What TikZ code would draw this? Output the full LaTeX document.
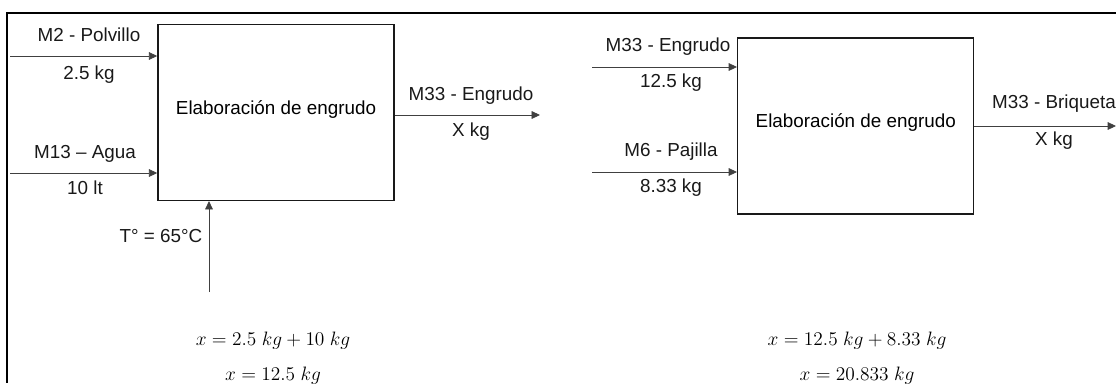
\RequirePackage{fix-cm}
\documentclass[tikz,border=0pt]{standalone}
\usepackage{fontspec}
\setmainfont{Liberation Sans}
\usepackage{tikz}
\usetikzlibrary{arrows.meta,positioning}
\newcommand{\fuente}{\fontsize{13.4}{16}\selectfont}

\tikzset{
	proceso/.style={draw=black!90, line width=1pt, inner sep=0pt,
		minimum width=5.9cm, minimum height=4.39cm,
		text height=0.75em, text depth=0.51em},
	flujo/.style={draw=black!75, line width=0.6pt, -{Triangle[length=6pt,width=5.5pt]}},
	etiq/.style={inner sep=0pt, text height=0.75em, text depth=0.2em, text=black!90},
	ecuacion/.style={inner sep=0pt, font=\fontsize{13.8}{16}\selectfont},
	marco/.style={line width=1.4pt}
}

\begin{document}
\begin{tikzpicture}[x=0.025cm, y=-0.025cm, font=\fuente]
		\useasboundingbox (0,0) rectangle (1116,383);
		\draw[marco] (1116,13) -- (7,13) -- (7,383);

		% Define nodes
		\node[proceso] (proc1) at (276,112.5) {Elaboración de engrudo};
		\node[proceso] (proc2) at (855.75,126) {Elaboración de engrudo};

		\coordinate (pol) at (10,56);
		\coordinate (agu) at (10,173);
		\coordinate (tem) at (209,292);
		\coordinate (sal1) at (540,115);
		\coordinate (eng) at (592,67);
		\coordinate (paj) at (592,172);
		\coordinate (sal2) at (1116,126);

		\node[etiq] (pol-n) at (89,38) {M2 - Polvillo};
		\node[etiq] (pol-m) at (89,76) {2.5 kg};
		\node[etiq] (agu-n) at (85,155) {M13 – Agua};
		\node[etiq] (agu-m) at (85,191) {10 lt};
		\node[etiq] (tem-n) at (161,239) {T° = 65°C};
		\node[etiq] (sal1-n) at (471,97) {M33 - Engrudo};
		\node[etiq] (sal1-m) at (471,133) {X kg};

		\node[etiq] (eng-n) at (668,48) {M33 - Engrudo};
		\node[etiq] (eng-m) at (671,84) {12.5 kg};
		\node[etiq] (paj-n) at (671,153) {M6 - Pajilla};
		\node[etiq] (paj-m) at (671,189) {8.33 kg};
		\node[etiq] (sal2-n) at (1054,105) {M33 - Briqueta};
		\node[etiq] (sal2-m) at (1054,142) {X kg};

		\node[ecuacion] (ec1) at (273,341) {$x = 2.5\;kg + 10\;kg$};
		\node[ecuacion] (ec2) at (273,376) {$x = 12.5\;kg$};
		\node[ecuacion] (ec3) at (857,341) {$x = 12.5\;kg + 8.33\;kg$};
		\node[ecuacion] (ec4) at (857,376) {$x = 20.833\;kg$};

		% Connect the nodes
		\draw[flujo] (pol) -- (pol -| proc1.west);
		\draw[flujo] (agu) -- (agu -| proc1.west);
		\draw[flujo] (tem) -- (tem |- proc1.south);
		\draw[flujo] (proc1.east |- sal1) -- (sal1);

		\draw[flujo] (eng) -- (eng -| proc2.west);
		\draw[flujo] (paj) -- (paj -| proc2.west);
		\draw[flujo] (proc2.east |- sal2) -- (sal2);

	\end{tikzpicture}
\end{document}
